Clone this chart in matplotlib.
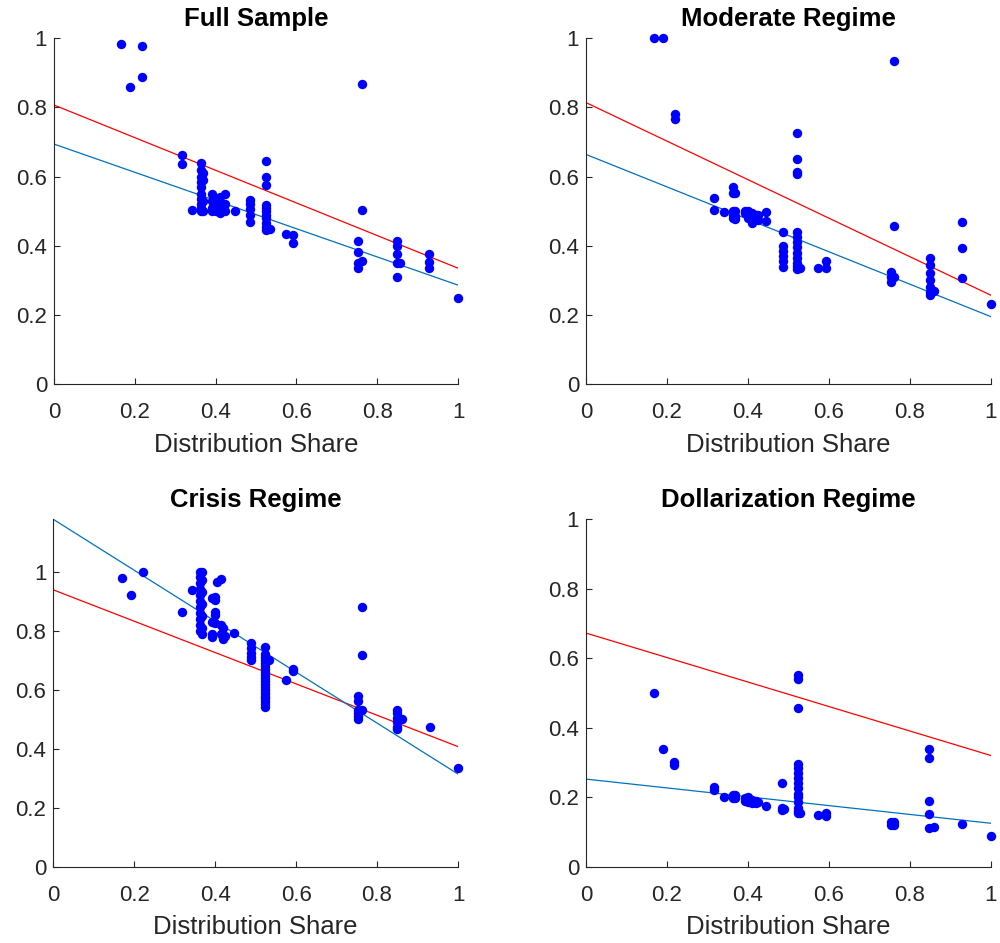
import matplotlib
matplotlib.use('Agg')
import matplotlib.pyplot as plt
import numpy as np

plt.rcParams['font.family'] = ['Liberation Sans', 'DejaVu Sans']

titles = ['Full Sample', 'Moderate Regime', 'Crisis Regime', 'Dollarization Regime']
x_label = 'Distribution Share'

# columns of points: x position and the y values stacked at it
fs_cols = [0.167, 0.188, 0.219, 0.316, 0.341, 0.363, 0.368, 0.392, 0.40, 0.41, 0.423,
           0.448, 0.485, 0.524, 0.535, 0.574, 0.592, 0.753, 0.762, 0.85, 0.857, 0.929, 1.0]
fs_vals = [[0.983], [0.859], [0.979, 0.889], [0.662, 0.636], [0.503],
           [0.638, 0.62, 0.60, 0.585, 0.57, 0.55, 0.535, 0.52, 0.51, 0.50],
           [0.61, 0.59, 0.53, 0.50], [0.55, 0.53, 0.51, 0.50], [0.52, 0.50],
           [0.54, 0.515, 0.495], [0.55, 0.52, 0.50], [0.50],
           [0.532, 0.52, 0.505, 0.49, 0.47],
           [0.646, 0.598, 0.576, 0.518, 0.51, 0.50, 0.49, 0.48, 0.465, 0.455, 0.445],
           [0.448], [0.433], [0.431, 0.409], [0.415, 0.383, 0.349, 0.335],
           [0.869, 0.503, 0.355], [0.415, 0.40, 0.377, 0.349, 0.31], [0.35],
           [0.375, 0.354, 0.335], [0.25]]

mod_cols = [0.169, 0.191, 0.220, 0.316, 0.341, 0.362, 0.368, 0.393, 0.40, 0.41, 0.42,
            0.426, 0.446, 0.486, 0.522, 0.53, 0.574, 0.592, 0.753, 0.76, 0.85, 0.86, 0.930, 1.0]
mod_vals = [[1.0], [1.0], [0.780, 0.766], [0.537, 0.503], [0.498],
            [0.569, 0.553, 0.50, 0.49, 0.48], [0.553, 0.50, 0.485, 0.478],
            [0.50, 0.495], [0.50, 0.49, 0.48], [0.495, 0.475, 0.465], [0.49, 0.48],
            [0.49, 0.475], [0.498, 0.472],
            [0.439, 0.40, 0.385, 0.37, 0.355, 0.338],
            [0.725, 0.651, 0.614, 0.607, 0.44, 0.425, 0.41, 0.395, 0.38, 0.365, 0.35, 0.34, 0.332],
            [0.335], [0.335], [0.356, 0.335], [0.325, 0.31, 0.296], [0.933, 0.458, 0.31],
            [0.364, 0.345, 0.32, 0.30, 0.28, 0.265, 0.257], [0.27],
            [0.468, 0.393, 0.306], [0.23]]

cri_cols = [0.169, 0.191, 0.221, 0.317, 0.342, 0.363, 0.368, 0.393, 0.40, 0.404, 0.414,
            0.42, 0.425, 0.447, 0.489, 0.523, 0.534, 0.574, 0.592, 0.752, 0.762, 0.849,
            0.861, 0.931, 1.0]
cri_vals = [[0.978], [0.92], [1.0], [0.862], [0.938],
            [1.0, 0.98, 0.96, 0.94, 0.92, 0.90, 0.88, 0.86, 0.84, 0.82, 0.80],
            [1.0, 0.97, 0.93, 0.89, 0.85, 0.81, 0.79], [0.91, 0.828, 0.79, 0.778],
            [0.915, 0.904, 0.864, 0.853, 0.825], [0.963], [0.974, 0.82, 0.79],
            [0.808, 0.778, 0.77], [0.78], [0.793], [0.757, 0.74, 0.725, 0.712, 0.70],
            [0.746, 0.72, 0.71, 0.70, 0.69, 0.68, 0.67, 0.66, 0.65, 0.64, 0.63, 0.62,
             0.61, 0.60, 0.59, 0.58, 0.57, 0.56, 0.55, 0.54],
            [0.70], [0.631], [0.669, 0.664], [0.58, 0.56, 0.53, 0.52, 0.51, 0.50],
            [0.879, 0.718, 0.53], [0.531, 0.52, 0.505, 0.49, 0.475, 0.466], [0.50],
            [0.475], [0.333]]

dol_cols = [0.169, 0.19, 0.218, 0.316, 0.341, 0.363, 0.368, 0.393, 0.40, 0.41, 0.42,
            0.426, 0.446, 0.485, 0.49, 0.523, 0.53, 0.574, 0.592, 0.753, 0.76, 0.848,
            0.86, 0.93, 1.0]
dol_vals = [[0.501], [0.338], [0.30, 0.293], [0.23, 0.22], [0.20], [0.206, 0.197],
            [0.205, 0.197], [0.197, 0.19], [0.20, 0.185], [0.192, 0.183], [0.19, 0.183],
            [0.185], [0.175], [0.24, 0.168, 0.163], [0.165],
            [0.55, 0.54, 0.456, 0.296, 0.285, 0.27, 0.255, 0.24, 0.225, 0.21, 0.20,
             0.185, 0.17, 0.16, 0.155],
            [0.155], [0.149], [0.155, 0.145], [0.128, 0.12], [0.128, 0.12],
            [0.338, 0.314, 0.19, 0.151, 0.112], [0.115], [0.122], [0.089]]

# fitted lines: intercept and value at x = 1
red_start = [0.807, 0.814, 0.938, 0.672]
red_end = [0.335, 0.257, 0.407, 0.320]
blue_start = [0.694, 0.664, 1.177, 0.252]
blue_end = [0.286, 0.195, 0.314, 0.125]

y_tops = [1.0, 1.0, 1.178, 1.0]

cols = [fs_cols, mod_cols, cri_cols, dol_cols]
vals = [fs_vals, mod_vals, cri_vals, dol_vals]

# axes positions in figure fractions [left, bottom, width, height]
positions = [[0.054, 0.5928, 0.404, 0.3666],
             [0.586, 0.5928, 0.4047, 0.3666],
             [0.0533, 0.0809, 0.4047, 0.3687],
             [0.586, 0.0809, 0.4047, 0.3687]]

gray = (0.15, 0.15, 0.15)
fig = plt.figure(figsize=(10, 9.43), dpi=100)

for i in range(4):
    ax = fig.add_axes(positions[i])
    xs = []
    ys = []
    for c, v in zip(cols[i], vals[i]):
        xs += [c] * len(v)
        ys += v
    ax.scatter(xs, ys, s=46, color=(0, 0, 1), linewidths=0, clip_on=False, zorder=3)
    ax.plot([0, 1], [red_start[i], red_end[i]], color=(1, 0, 0), lw=0.9, zorder=2)
    ax.plot([0, 1], [blue_start[i], blue_end[i]], color=(0, 0.447, 0.741), lw=0.9, zorder=2)

    ax.set_xlim(0, 1)
    ax.set_ylim(0, y_tops[i])
    ax.set_xticks(np.arange(0, 1.01, 0.2))
    ax.set_yticks(np.arange(0, 1.01, 0.2))
    ax.xaxis.set_major_formatter(plt.FuncFormatter(lambda v, p: '%g' % round(v, 2)))
    ax.yaxis.set_major_formatter(plt.FuncFormatter(lambda v, p: '%g' % round(v, 2)))
    for s in ['top', 'right']:
        ax.spines[s].set_visible(False)
    for s in ['left', 'bottom']:
        ax.spines[s].set_color(gray)
        ax.spines[s].set_linewidth(0.8)
    ax.tick_params(direction='in', length=4, width=0.8, color=gray,
                   labelcolor=gray, labelsize=16)
    ax.tick_params(axis='x', pad=13)
    ax.tick_params(axis='y', pad=5)
    ax.set_xlabel(x_label, fontsize=18.5, color=gray, labelpad=7)
    ax.set_title(titles[i], fontsize=18.5, fontweight='bold', pad=9)

fig.savefig('out.png', dpi=100)
